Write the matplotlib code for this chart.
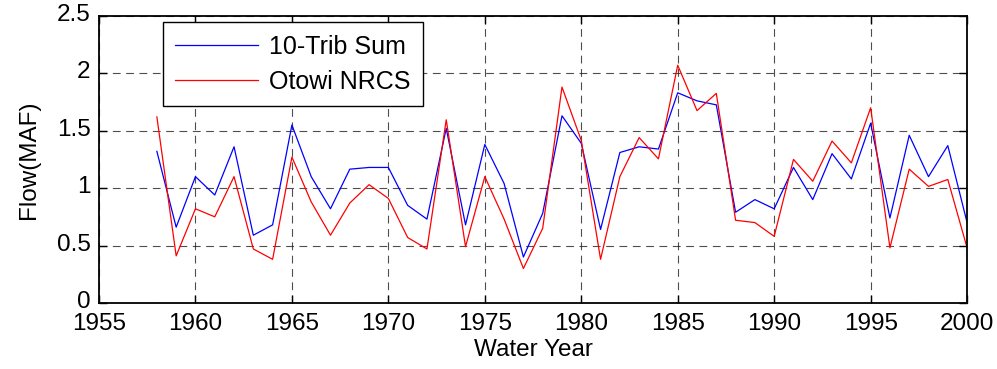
import matplotlib
matplotlib.use("Agg")
import matplotlib.pyplot as plt
import matplotlib.transforms as mtransforms
import numpy as np

years = np.arange(1958, 2001)

trib_sum = [
    1.32, 0.66, 1.10, 0.94, 1.36, 0.59, 0.68, 1.55, 1.10, 0.82,
    1.165, 1.18, 1.18, 0.85, 0.73, 1.52, 0.68, 1.38, 1.04, 0.40,
    0.78, 1.63, 1.39, 0.64, 1.31, 1.36, 1.34, 1.83, 1.76, 1.725,
    0.79, 0.90, 0.82, 1.18, 0.90, 1.30, 1.08, 1.565, 0.74, 1.46,
    1.10, 1.37, 0.70,
]
otowi_nrcs = [
    1.62, 0.41, 0.82, 0.75, 1.10, 0.47, 0.38, 1.27, 0.88, 0.59,
    0.87, 1.03, 0.91, 0.57, 0.47, 1.595, 0.49, 1.10, 0.73, 0.30,
    0.65, 1.88, 1.415, 0.38, 1.10, 1.44, 1.255, 2.07, 1.675, 1.825,
    0.72, 0.70, 0.58, 1.25, 1.06, 1.41, 1.22, 1.70, 0.48, 1.165,
    1.015, 1.075, 0.48,
]

plt.rcParams.update({
    "font.family": ["Liberation Sans", "DejaVu Sans"],
    "font.size": 17.5,
})

fig = plt.figure(figsize=(9.97, 3.69), dpi=100)
ax = fig.add_axes([0.0993, 0.179, 0.8707, 0.778])

ax.plot(years, trib_sum, color="#0000ff", linewidth=0.9, label="10-Trib Sum")
ax.plot(years, otowi_nrcs, color="#ff0000", linewidth=0.9, label="Otowi NRCS")

ax.set_xlim(1955, 2000)
ax.set_ylim(0, 2.5)
ax.set_xticks(np.arange(1955, 2001, 5))
ax.set_yticks(np.arange(0, 2.51, 0.5))
ax.set_yticklabels(["0", "0.5", "1", "1.5", "2", "2.5"])

ax.grid(True, color="#222222", linestyle=(0, (7, 5)), linewidth=0.8, alpha=0.8)
ax.tick_params(direction="in", top=True, right=True, length=6, width=1,
               labelsize=17.5)
ax.tick_params(axis="x", pad=7)
ax.tick_params(axis="y", pad=6)
for s in ax.spines.values():
    s.set_linewidth(1.3)

# lift the y tick labels a touch so "0" clears the first year label
lift = mtransforms.ScaledTranslation(0, 2.5 / 72, fig.dpi_scale_trans)
for lbl in ax.get_yticklabels():
    lbl.set_transform(lbl.get_transform() + lift)

ax.set_xlabel("Water Year", fontsize=17.5, labelpad=3)
ax.set_ylabel("Flow(MAF)", fontsize=17.5, labelpad=12)

leg = ax.legend(loc="upper left", bbox_to_anchor=(0.0734, 0.978),
                borderaxespad=0, fancybox=False, framealpha=1,
                edgecolor="black", handlelength=3.3, handletextpad=0.45,
                labelspacing=0.45, borderpad=0.5, fontsize=18)
leg.get_frame().set_linewidth(1.0)

fig.savefig("out.png", dpi=100)
